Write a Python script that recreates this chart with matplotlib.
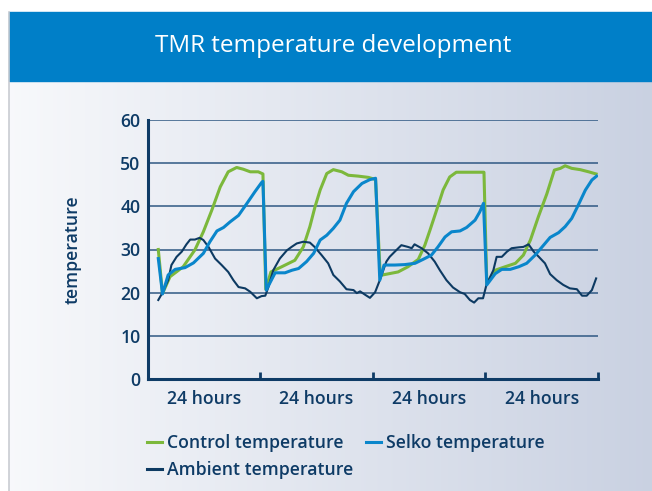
#!/usr/bin/env python3
import numpy as np
import matplotlib.pyplot as plt
from matplotlib.patches import Rectangle
from matplotlib.lines import Line2D

# hours since start (4 x 24 h)
control_h = [2.3, 3.2, 4.8, 7.6, 10.1, 11.9, 13.7, 15.5, 17.2, 19.0,
             20.4, 21.9, 23.6, 24.6, 25.2, 26.3, 28.6, 31.4, 33.2, 34.6,
             35.7, 36.8, 38.2, 39.6, 41.4, 42.8, 44.9, 47.1, 48.6, 49.6,
             53.4, 55.5, 57.7, 59.1, 60.2, 61.6, 63.0, 64.4, 65.8, 68.3,
             71.7, 72.3, 74.1, 76.2, 78.4, 80.1, 81.6, 83.3, 85.1, 86.7,
             88.0, 89.0, 90.4, 92.2, 94.0, 95.6]
control_t = [30.0, 19.8, 23.7, 26.0, 29.9, 34.1, 39.1, 44.5, 48.0, 49.0,
             48.6, 48.0, 48.0, 47.5, 20.8, 24.8, 26.0, 27.5, 30.6, 35.3,
             39.9, 43.8, 47.6, 48.5, 48.0, 47.2, 47.0, 46.7, 46.2, 24.0,
             24.8, 26.0, 27.7, 31.0, 34.5, 39.1, 43.8, 46.8, 47.9, 47.9,
             47.9, 22.1, 25.2, 26.0, 26.8, 28.7, 32.2, 37.6, 42.9, 48.4,
             48.8, 49.4, 48.8, 48.5, 48.0, 47.5]

selko_h = [2.3, 3.2, 4.4, 5.9, 8.0, 9.8, 11.9, 13.3, 14.8, 16.2,
           17.6, 19.4, 21.2, 22.9, 24.3, 24.6, 25.3, 27.2, 29.3, 30.8,
           32.2, 33.9, 35.4, 36.8, 38.2, 39.6, 41.0, 42.4, 43.9, 45.7,
           47.4, 48.6, 49.5, 50.4, 52.7, 54.8, 57.0, 58.7, 60.5, 61.9,
           63.4, 64.8, 66.6, 68.0, 69.8, 70.8, 71.6, 72.3, 74.1, 75.5,
           77.3, 79.1, 80.8, 82.6, 84.4, 85.8, 87.6, 89.0, 90.4, 91.8,
           93.3, 94.7, 95.7]
selko_t = [27.9, 19.7, 24.1, 25.4, 25.8, 26.9, 29.1, 31.8, 34.3, 35.1,
           36.4, 37.9, 40.7, 43.4, 45.5, 45.8, 20.6, 24.6, 24.6, 25.2,
           25.6, 27.2, 29.1, 32.2, 33.3, 34.9, 36.8, 40.7, 43.4, 45.3,
           46.2, 46.5, 22.9, 26.4, 26.4, 26.5, 26.8, 27.7, 28.7, 30.6,
           32.9, 34.1, 34.3, 35.1, 36.8, 38.7, 40.7, 21.8, 24.4, 25.4,
           25.4, 26.0, 26.8, 28.7, 31.0, 32.8, 33.9, 35.3, 37.2, 40.3,
           43.75, 46.1, 47.0]

ambient_h = [2.3, 3.2, 4.4, 5.1, 6.2, 7.3, 8.3, 9.1, 10.1, 11.1,
             11.9, 13.0, 14.4, 15.8, 17.2, 18.3, 19.4, 20.8, 21.9, 23.3,
             24.3, 25.1, 25.8, 26.8, 28.2, 29.7, 30.7, 31.8, 33.2, 34.6,
             35.6, 37.1, 38.5, 39.6, 41.0, 42.4, 43.9, 44.6, 45.3, 46.4,
             47.4, 48.5, 49.4, 50.9, 51.6, 52.7, 54.1, 55.5, 56.3, 56.9,
             58.4, 59.8, 61.2, 62.3, 63.7, 65.1, 66.6, 67.6, 68.7, 69.6,
             70.5, 71.5, 72.2, 72.7, 73.7, 74.4, 75.5, 76.6, 77.6, 79.1,
             80.1, 81.2, 82.3, 83.3, 84.7, 85.8, 87.2, 88.6, 90.0, 91.5,
             92.6, 93.6, 94.7, 95.6]
ambient_t = [18.3, 20.0, 22.9, 26.4, 28.3, 29.5, 31.2, 32.3, 32.3, 32.7,
             32.2, 30.6, 27.9, 26.4, 24.8, 22.9, 21.3, 21.0, 20.2, 18.7,
             19.2, 19.3, 21.4, 25.2, 27.9, 29.8, 30.6, 31.4, 31.8, 31.6,
             30.6, 28.7, 26.8, 24.1, 22.6, 20.8, 20.6, 19.9, 20.3, 19.5,
             18.8, 20.1, 22.6, 27.2, 28.3, 29.5, 31.0, 30.6, 30.3, 31.2,
             30.3, 29.1, 27.2, 25.2, 22.9, 21.2, 20.1, 19.7, 18.3, 17.7,
             18.7, 18.7, 21.7, 22.9, 25.2, 28.3, 28.3, 29.5, 30.3, 30.5,
             30.6, 31.2, 29.5, 28.4, 26.8, 24.3, 22.9, 21.8, 21.0, 20.8,
             19.3, 19.3, 20.6, 23.3]

day_ticks = [24, 48, 72, 96]
day_label_pos = [12, 36, 60, 84]
day_labels = ['24 hours'] * 4
y_ticks = [0, 10, 20, 30, 40, 50, 60]

NAVY = '#0e3b66'
GREEN = '#7cb83b'
BLUE = '#0a86cb'
DARK = '#0d3a62'
FS = 12.7
FW = 'semibold'

plt.rcParams['font.family'] = ['Open Sans', 'DejaVu Sans']

fig = plt.figure(figsize=(6.52, 4.91), dpi=100)
W, H = 652, 491

# panel background with a horizontal gradient
bg = fig.add_axes([9 / W, 0, 1 - 9 / W, (H - 81) / H], zorder=0)
grad = np.linspace(0, 1, 256).reshape(1, -1)
left_c = np.array([0.97, 0.975, 0.985])
right_c = np.array([0.79, 0.82, 0.885])
img = left_c + (right_c - left_c) * grad[..., None]
bg.imshow(img, aspect='auto', extent=[0, 1, 0, 1])
bg.set_axis_off()

# title band
fig.patches.append(Rectangle((9 / W, 1 - 81 / H), 1, 69 / H,
                             transform=fig.transFigure, color='#007fc8', zorder=1))
fig.add_artist(Line2D([8.5 / W, 8.5 / W], [0, 1 - 12 / H], color='#c9ccd2', lw=1.2))
fig.text(333 / W, 1 - 46 / H, 'TMR temperature development', color='white',
         fontsize=17.5, fontweight='medium', ha='center', va='center', zorder=3)

ax = fig.add_axes([147.5 / W, 1 - 379 / H, 450.5 / W, 259 / H], zorder=2)
ax.patch.set_alpha(0)

ax.plot(control_h, control_t, color=GREEN, lw=2.2, solid_joinstyle='round')
ax.plot(ambient_h, ambient_t, color=DARK, lw=1.5, solid_joinstyle='round')
ax.plot(selko_h, selko_t, color=BLUE, lw=2.2, solid_joinstyle='round')

ax.set_xlim(0, 96)
ax.set_ylim(0, 60)
ax.set_yticks(y_ticks)
ax.set_yticklabels([str(v) for v in y_ticks], fontsize=FS, fontweight=FW, color=NAVY)
ax.tick_params(axis='y', length=0, pad=5)

ax.set_xticks(day_ticks)
ax.set_xticklabels([])
ax.set_xticks(day_label_pos, minor=True)
ax.set_xticklabels(day_labels, minor=True, fontsize=FS, fontweight=FW, color=NAVY)
ax.tick_params(axis='x', which='major', direction='in', length=5, width=2, color=NAVY)
ax.tick_params(axis='x', which='minor', length=0, pad=8)

ax.yaxis.grid(True, color='#2f5883', lw=1.1)
ax.set_axisbelow(True)
for s in ['top', 'right']:
    ax.spines[s].set_visible(False)
for s in ['left', 'bottom']:
    ax.spines[s].set_color(NAVY)
    ax.spines[s].set_linewidth(2.2)

ax.set_ylabel('temperature', fontsize=FS, fontweight=FW, color=NAVY)
ax.yaxis.set_label_coords(-0.147, 0.5)

handles = [Line2D([], [], color=GREEN, lw=2.2),
           Line2D([], [], color=DARK, lw=2.2),
           Line2D([], [], color=BLUE, lw=2.2)]
labels = ['Control temperature', 'Ambient temperature', 'Selko temperature']
leg = fig.legend(handles, labels, ncol=2, loc='upper left',
                 bbox_to_anchor=(147 / W, 1 - 434 / H), frameon=False,
                 handlelength=0.85, handletextpad=0.3, columnspacing=0.68,
                 labelspacing=0.5, borderpad=0, borderaxespad=0,
                 prop={'size': FS, 'weight': FW})
for t in leg.get_texts():
    t.set_color(NAVY)

plt.savefig('out.png', dpi=100)
